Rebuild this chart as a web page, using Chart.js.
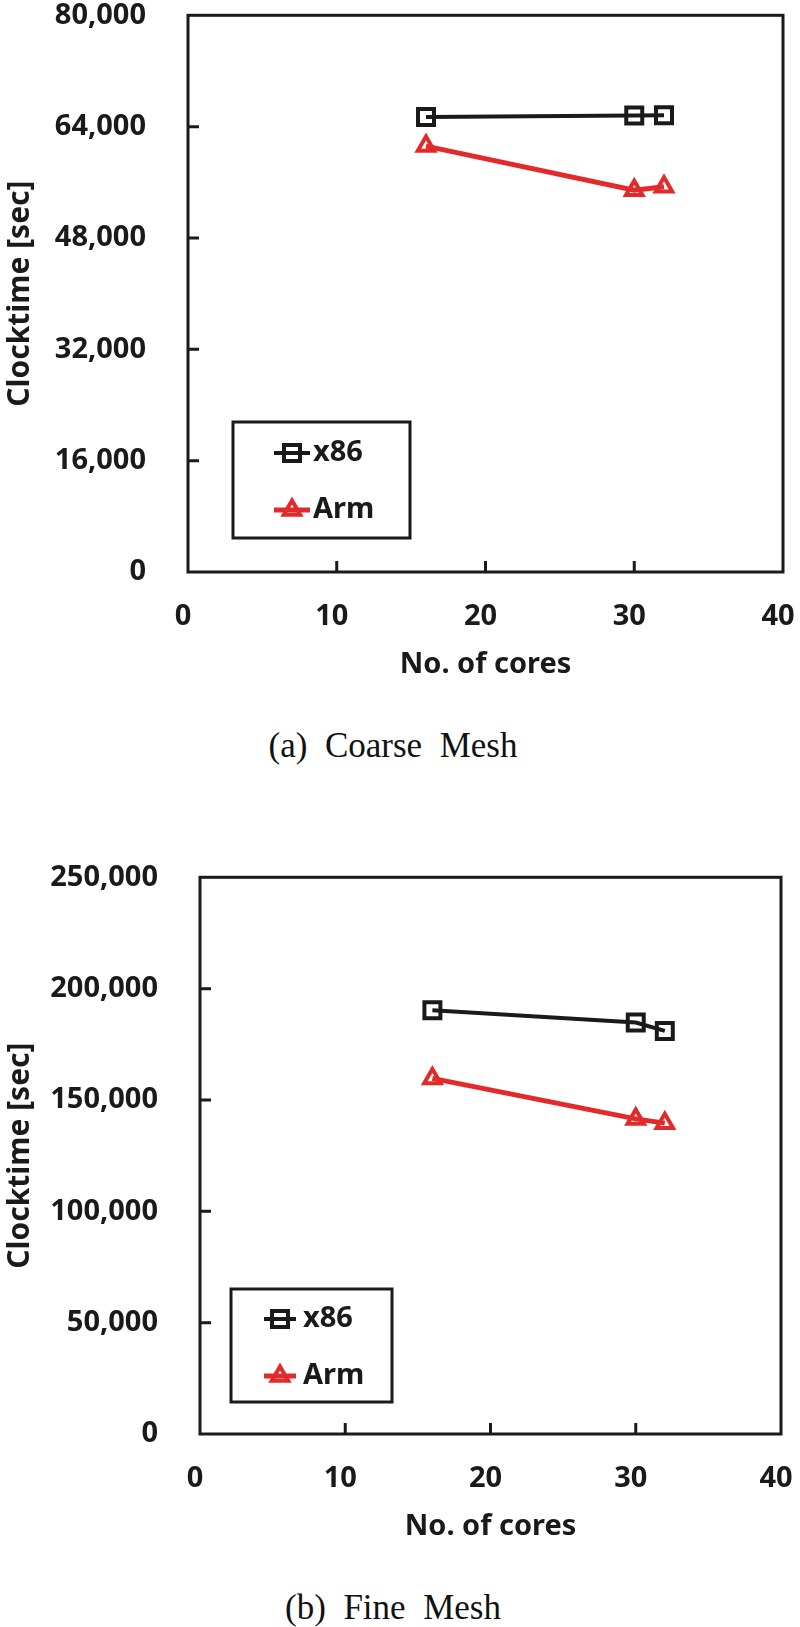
<!DOCTYPE html>
<html>
<head>
<meta charset="utf-8">
<title>Clocktime vs cores</title>
<script src="https://cdn.jsdelivr.net/npm/chart.js@4.4.1/dist/chart.umd.min.js"></script>
<style>
  html, body { margin: 0; padding: 0; background: #fff; }
  #page { position: relative; width: 800px; height: 1627px; overflow: hidden; }
  canvas { position: absolute; left: 0; }
  #coarseChart { top: 0; }
  #fineChart { top: 862px; }
  .caption {
    position: absolute; left: 0; width: 786px; text-align: center;
    font-family: 'Liberation Serif', 'Times New Roman', serif;
    font-size: 35px; line-height: 40px; color: #111; white-space: pre;
  }
</style>
</head>
<body>
<div id="page">
  <canvas id="coarseChart" width="800" height="700"></canvas>
  <div class="caption" style="top:726px">(a)  Coarse  Mesh</div>
  <canvas id="fineChart" width="800" height="700"></canvas>
  <div class="caption" style="top:1588px">(b)  Fine  Mesh</div>
</div>
<script>
// number of cores
const cores = [16, 30, 32];

// (a) coarse mesh, clocktime in seconds
const coarseX86 = [65400, 65600, 65650];
const coarseArm = [61200, 54850, 55350];

// (b) fine mesh, clocktime in seconds
const fineX86 = [190300, 184800, 181000];
const fineArm = [159700, 141500, 139600];

const seriesNames = ['x86', 'Arm'];
const coarseAxis = [0, 80000, 16000];   // min, max, step
const fineAxis = [0, 250000, 50000];
const coreAxis = [0, 40, 10];

const BLACK = '#1a1a1a';
const RED = '#e32a2a';
const FONT = "'Noto Sans', 'DejaVu Sans', sans-serif";

Chart.defaults.font.family = FONT;
Chart.defaults.color = BLACK;

// box around the plot, with short ticks pointing inward
const framePlugin = {
    id: 'frame',
    beforeDatasetsDraw(chart) {
        const {ctx, chartArea: a, scales} = chart;
        const x = scales.x, y = scales.y;
        ctx.save();
        ctx.strokeStyle = BLACK;
        ctx.lineWidth = 3;
        ctx.strokeRect(a.left, a.top, a.right - a.left, a.bottom - a.top);
        ctx.beginPath();
        x.ticks.forEach(function(t) {
            if (t.value > x.min && t.value < x.max) {
                const px = x.getPixelForValue(t.value);
                ctx.moveTo(px, a.bottom);
                ctx.lineTo(px, a.bottom - 11);
            }
        });
        y.ticks.forEach(function(t) {
            if (t.value > y.min && t.value < y.max) {
                const py = y.getPixelForValue(t.value);
                ctx.moveTo(a.left, py);
                ctx.lineTo(a.left + 11, py);
            }
        });
        ctx.stroke();
        ctx.restore();
    }
};

// legend box drawn inside the plot
const boxLegendPlugin = {
    id: 'boxLegend',
    afterDraw(chart, args, o) {
        const ctx = chart.ctx;
        ctx.save();
        ctx.fillStyle = '#fff';
        ctx.fillRect(o.left, o.top, o.width, o.height);
        ctx.strokeStyle = BLACK;
        ctx.lineWidth = 3;
        ctx.strokeRect(o.left, o.top, o.width, o.height);
        chart.data.datasets.forEach(function(ds, i) {
            const ry = o.top + o.rows[i];
            ctx.strokeStyle = ds.borderColor;
            ctx.lineWidth = ds.borderWidth;
            ctx.beginPath();
            ctx.moveTo(o.lineFrom, ry);
            ctx.lineTo(o.lineTo, ry);
            ctx.stroke();
            const mx = (o.lineFrom + o.lineTo) / 2;
            ctx.fillStyle = 'rgba(0,0,0,0)';
            ctx.strokeStyle = ds.pointBorderColor;
            ctx.lineWidth = ds.pointBorderWidth;
            Chart.helpers.drawPoint(ctx, {
                pointStyle: ds.pointStyle,
                radius: ds.pointRadius,
                borderWidth: ds.pointBorderWidth,
                rotation: 0
            }, mx, ry);
            ctx.fillStyle = BLACK;
            ctx.font = "bold 29px " + FONT;
            ctx.textBaseline = 'middle';
            ctx.textAlign = 'left';
            ctx.fillText(ds.label, o.textX, ry);
        });
        ctx.restore();
    }
};

function makeDatasets(x86, arm) {
    return [{
        label: seriesNames[0],
        data: cores.map(function(c, i) { return {x: c, y: x86[i]}; }),
        borderColor: BLACK,
        borderWidth: 4,
        pointStyle: 'rect',
        pointRadius: 11.3,
        pointBorderColor: BLACK,
        pointBorderWidth: 4,
        pointBackgroundColor: 'rgba(0,0,0,0)'
    }, {
        label: seriesNames[1],
        data: cores.map(function(c, i) { return {x: c, y: arm[i]}; }),
        borderColor: RED,
        borderWidth: 5,
        pointStyle: 'triangle',
        pointRadius: 9.5,
        pointBorderColor: RED,
        pointBorderWidth: 4,
        pointBackgroundColor: 'rgba(0,0,0,0)'
    }];
}

function makeChart(id, x86, arm, yAxis, yWidth, rightPad, legend) {
    const ctx = document.getElementById(id).getContext('2d');
    return new Chart(ctx, {
        type: 'line',
        data: { datasets: makeDatasets(x86, arm) },
        options: {
            responsive: false,
            animation: false,
            layout: { padding: { top: 15, right: rightPad, left: 0, bottom: 0 } },
            plugins: {
                legend: { display: false },
                tooltip: { enabled: false },
                boxLegend: legend
            },
            scales: {
                x: {
                    type: 'linear',
                    min: coreAxis[0],
                    max: coreAxis[1],
                    grid: { display: false, drawTicks: false },
                    border: { display: false },
                    ticks: {
                        stepSize: coreAxis[2],
                        autoSkip: false,
                        maxRotation: 0,
                        padding: 27,
                        labelOffset: -5,
                        font: { size: 29, weight: 'bold' }
                    },
                    title: {
                        display: true,
                        text: 'No. of cores',
                        font: { size: 29, weight: 'bold' },
                        padding: { top: 0, bottom: 18 }
                    },
                    afterFit: function(scale) {
                        scale.height = 128;
                        scale.paddingLeft = 0;
                        scale.paddingRight = 0;
                    }
                },
                y: {
                    type: 'linear',
                    min: yAxis[0],
                    max: yAxis[1],
                    grid: { display: false, drawTicks: false },
                    border: { display: false },
                    ticks: {
                        stepSize: yAxis[2],
                        padding: 42,
                        font: { size: 29, weight: 'bold' },
                        callback: function(v) { return v.toLocaleString('en-US'); }
                    },
                    title: {
                        display: true,
                        text: 'Clocktime [sec]',
                        font: { size: 30, weight: 'bold' },
                        padding: { top: 2, bottom: 0 }
                    },
                    afterFit: function(scale) {
                        scale.width = yWidth;
                        scale.paddingTop = 0;
                        scale.paddingBottom = 0;
                    }
                }
            }
        },
        plugins: [framePlugin, boxLegendPlugin]
    });
}

makeChart('coarseChart', coarseX86, coarseArm, coarseAxis, 188, 17, {
    left: 233, top: 422, width: 177, height: 116,
    rows: [31, 88], lineFrom: 274, lineTo: 310, textX: 313
});
makeChart('fineChart', fineX86, fineArm, fineAxis, 200, 19, {
    left: 231, top: 427, width: 161, height: 113,
    rows: [30, 87], lineFrom: 264, lineTo: 296, textX: 303
});
</script>
</body>
</html>
